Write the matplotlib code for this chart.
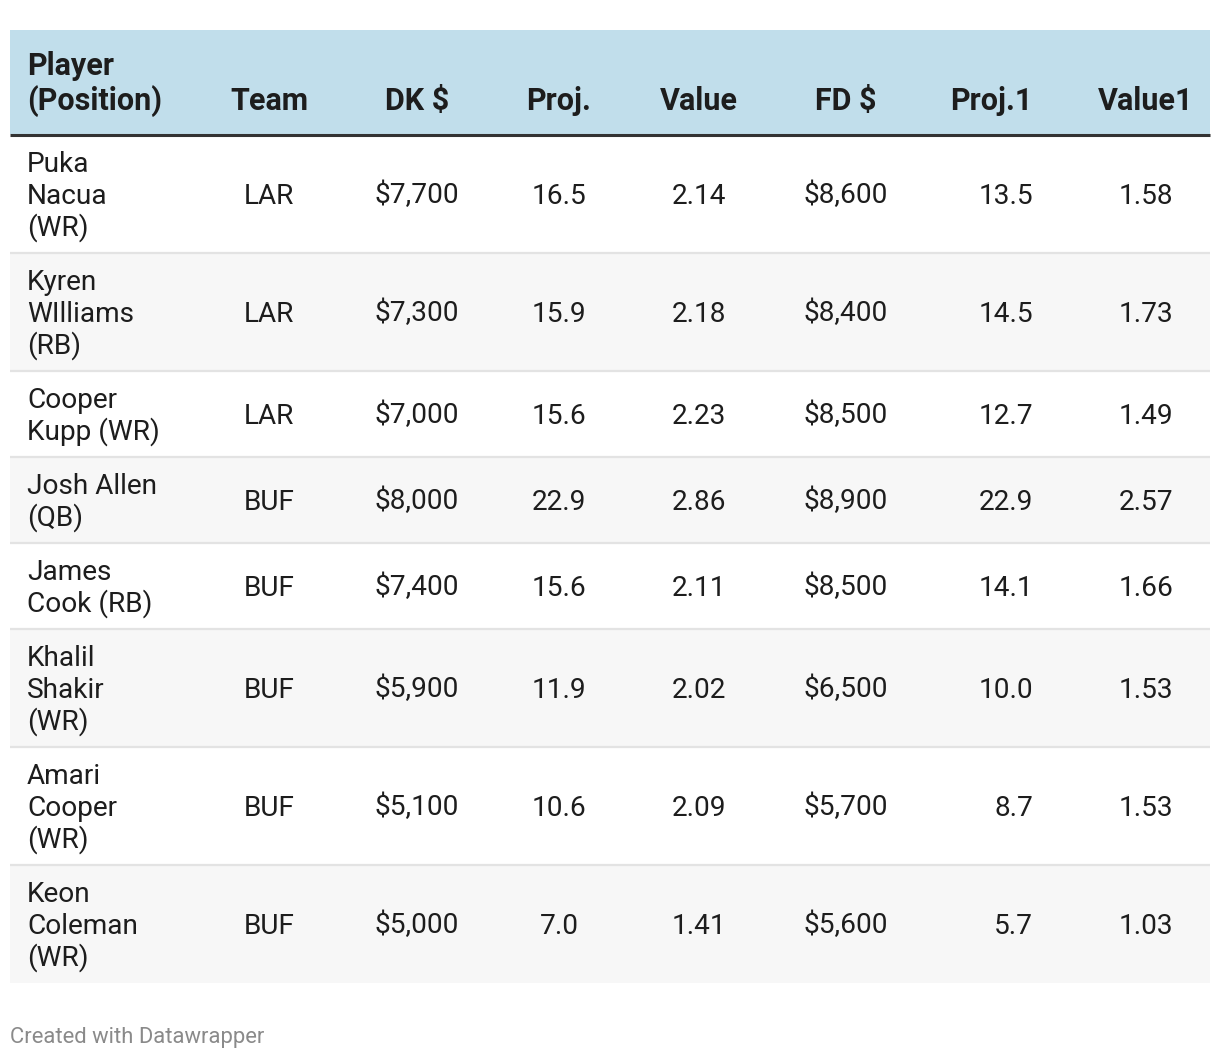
import matplotlib.pyplot as plt
from matplotlib.patches import Rectangle

plt.rcParams['font.family'] = ['Roboto', 'DejaVu Sans']

# table data
headers = ["Player\n(Position)", "Team", "DK $", "Proj.", "Value", "FD $", "Proj.1", "Value1"]
players = ["Puka\nNacua\n(WR)", "Kyren\nWIlliams\n(RB)", "Cooper\nKupp (WR)", "Josh Allen\n(QB)",
           "James\nCook (RB)", "Khalil\nShakir\n(WR)", "Amari\nCooper\n(WR)", "Keon\nColeman\n(WR)"]
teams = ["LAR", "LAR", "LAR", "BUF", "BUF", "BUF", "BUF", "BUF"]
dk_salary = [7700, 7300, 7000, 8000, 7400, 5900, 5100, 5000]
dk_proj = [16.5, 15.9, 15.6, 22.9, 15.6, 11.9, 10.6, 7.0]
dk_value = [2.14, 2.18, 2.23, 2.86, 2.11, 2.02, 2.09, 1.41]
fd_salary = [8600, 8400, 8500, 8900, 8500, 6500, 5700, 5600]
fd_proj = [13.5, 14.5, 12.7, 22.9, 14.1, 10.0, 8.7, 5.7]
fd_value = [1.58, 1.73, 1.49, 2.57, 1.66, 1.53, 1.53, 1.03]

W, H = 1220, 1058
fig = plt.figure(figsize=(W / 100, H / 100), dpi=100)
ax = fig.add_axes([0, 0, 1, 1])
ax.set_xlim(0, W)
ax.set_ylim(H, 0)
ax.axis('off')

left, right = 10, 1210
head_top, head_bot = 30, 134
fs = 20.2
txt = '#1d1d1d'

# column anchor x and alignment
cols = [(27, 'left'), (269, 'center'), (417, 'center'), (559, 'center'),
        (699, 'center'), (846, 'center'), (1033, 'right'), (1146, 'center')]

# header
ax.add_patch(Rectangle((left, head_top), right - left, head_bot - head_top,
                       facecolor='#c1deeb', edgecolor='none'))
ax.plot([left, right], [head_bot + 1, head_bot + 1], color='#333333', lw=2.2,
        solid_capstyle='butt')
for (x, ha), h in zip(cols, headers):
    lines = h.split("\n")
    for i, ln in enumerate(lines):
        y = 110 - (len(lines) - 1 - i) * 35
        ax.text(x, y, ln, ha=ha, va='baseline', fontsize=22, fontweight='bold', color=txt)

# body rows
y0 = head_bot + 1
for r in range(len(players)):
    n = players[r].count("\n") + 1
    rh = 22 + 32 * n
    if r % 2 == 1:
        ax.add_patch(Rectangle((left, y0), right - left, rh, facecolor='#f7f7f7',
                               edgecolor='none'))
    if r < len(players) - 1:
        ax.plot([left, right], [y0 + rh, y0 + rh], color='#e3e3e3', lw=1.6,
                solid_capstyle='butt')
    cy = y0 + rh / 2
    cells = [players[r], teams[r], f"${dk_salary[r]:,}", f"{dk_proj[r]:.1f}",
             f"{dk_value[r]:.2f}", f"${fd_salary[r]:,}", f"{fd_proj[r]:.1f}",
             f"{fd_value[r]:.2f}"]
    for (x, ha), c in zip(cols, cells):
        lines = c.split("\n")
        for i, ln in enumerate(lines):
            y = cy + 9.5 + (i - (len(lines) - 1) / 2) * 32
            ax.text(x, y, ln, ha=ha, va='baseline', fontsize=fs, color=txt)
    y0 += rh

ax.text(10, 1043, "Created with Datawrapper", ha='left', va='baseline',
        fontsize=15.8, color='#8a8a8a')

fig.savefig('out.png', dpi=100, facecolor='white')
